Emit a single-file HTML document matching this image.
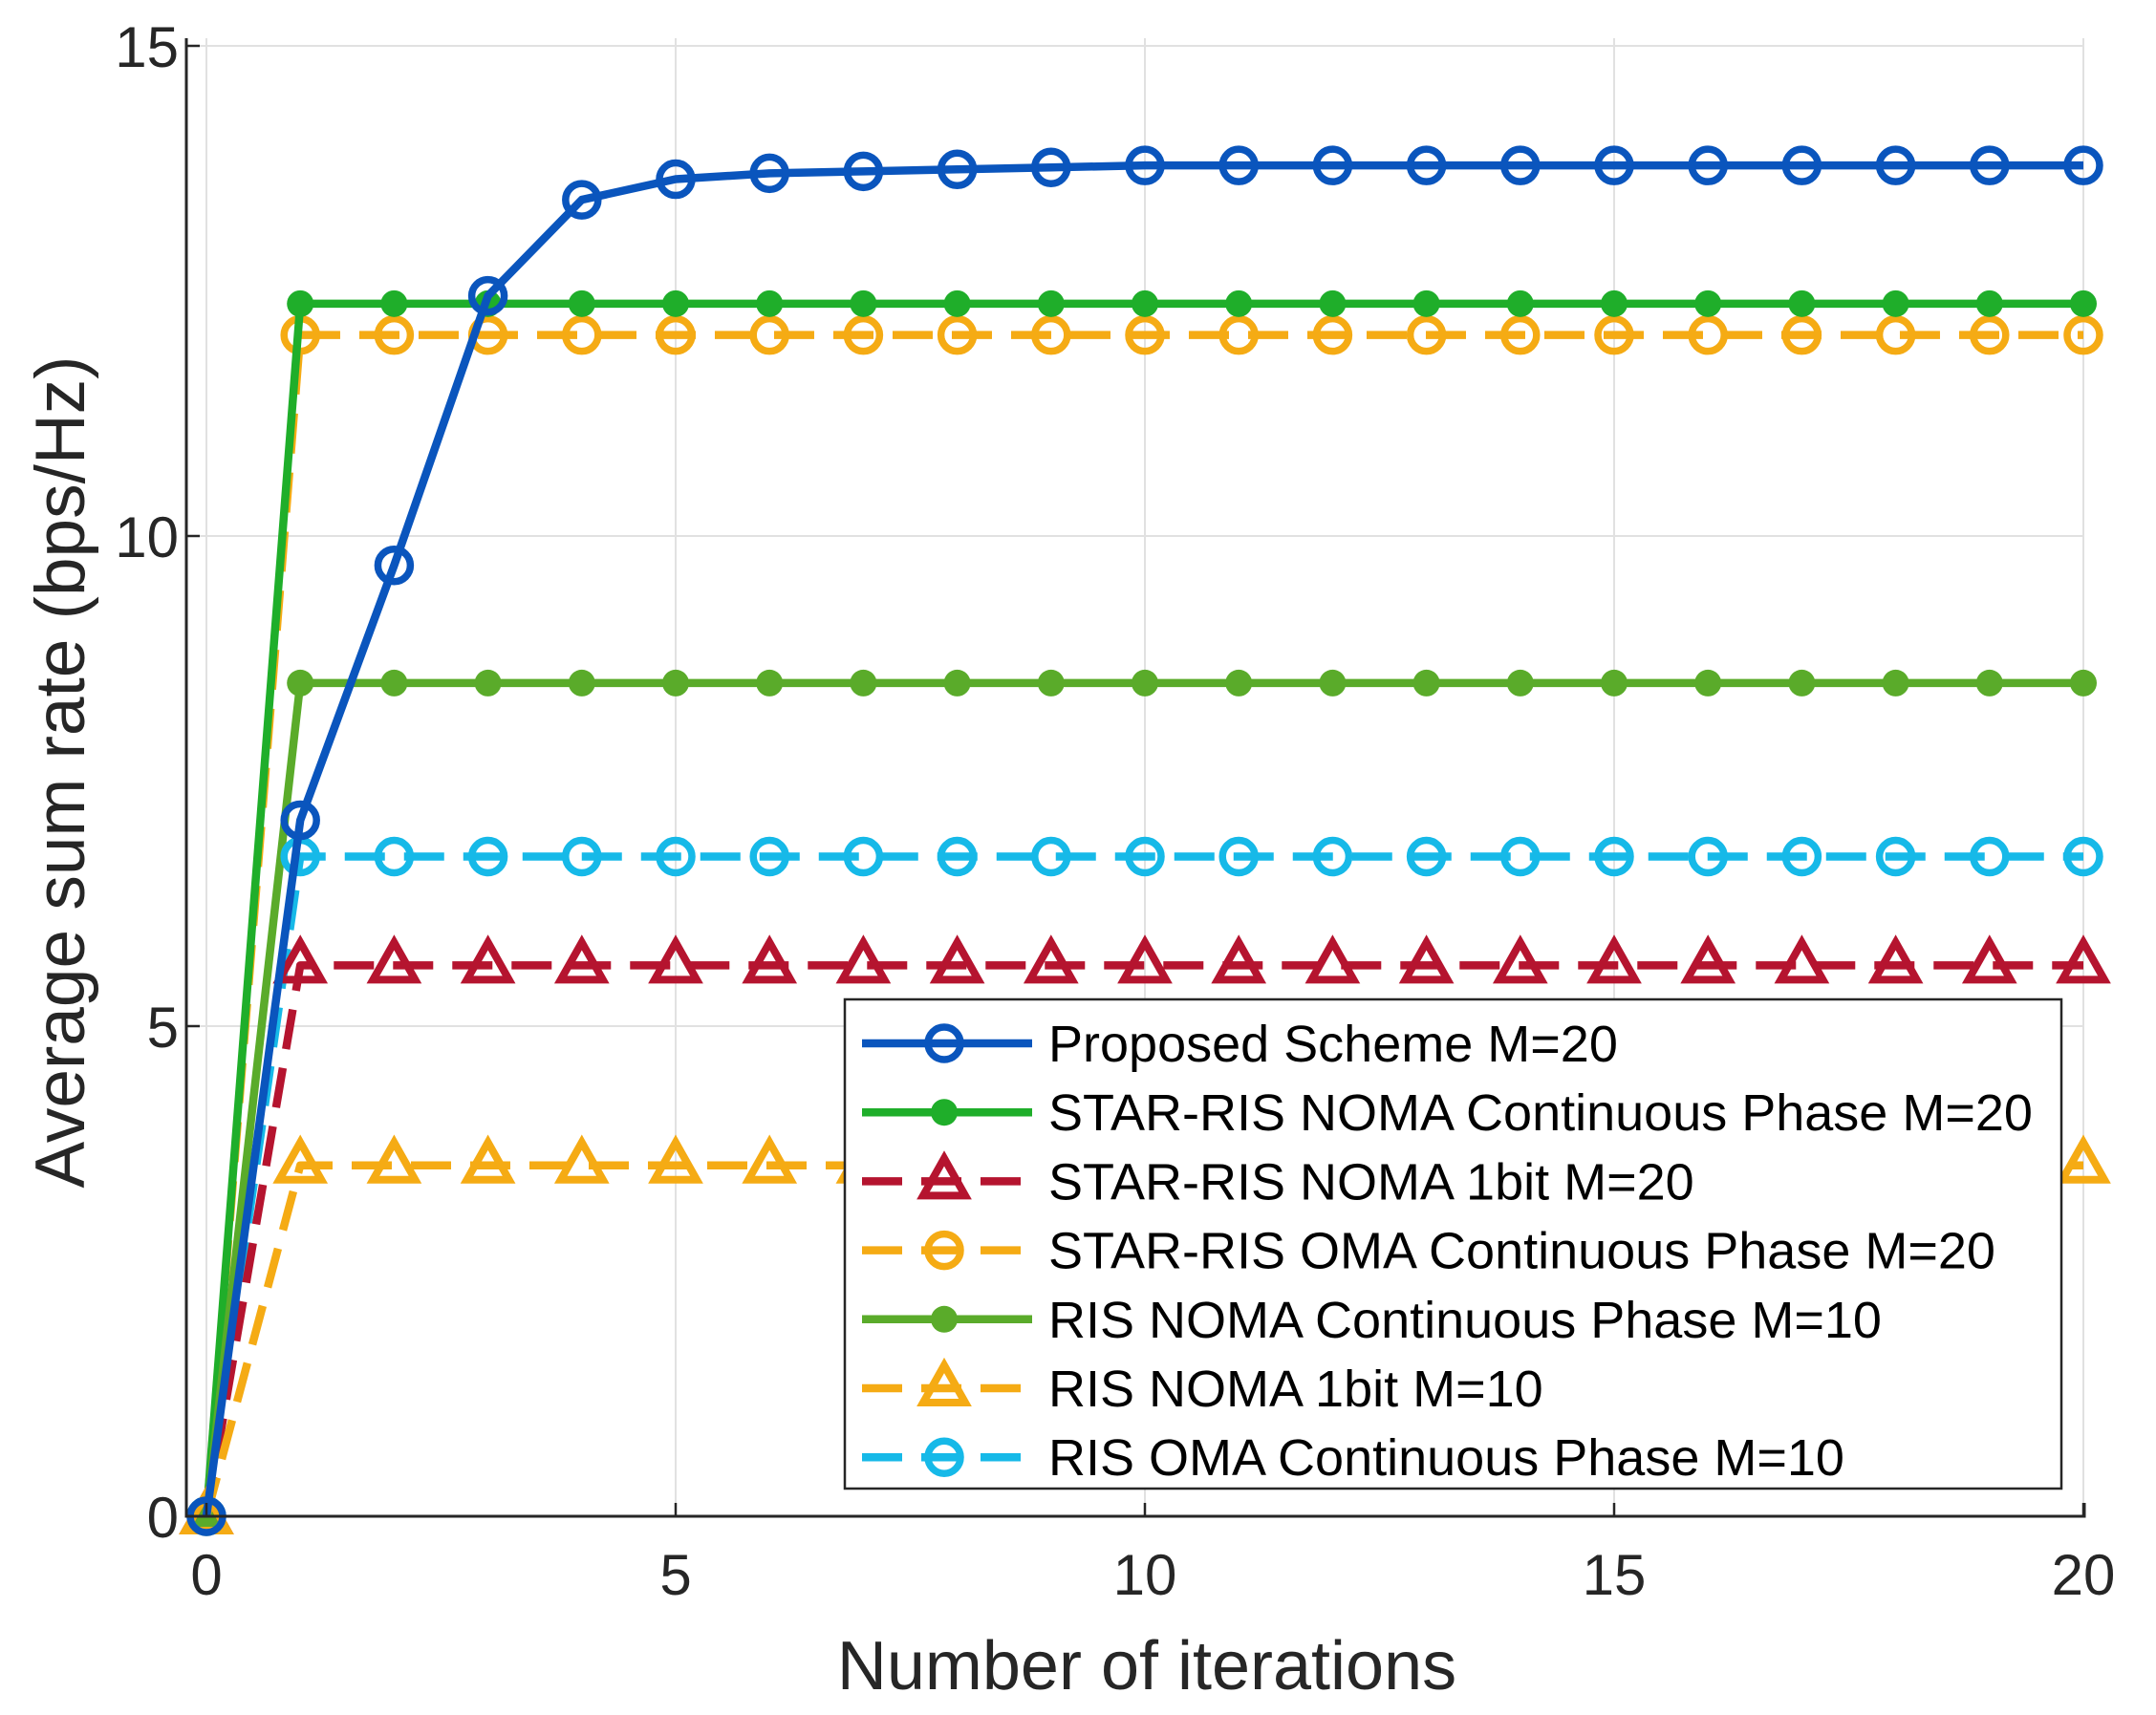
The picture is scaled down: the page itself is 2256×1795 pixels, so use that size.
<!DOCTYPE html>
<html><head><meta charset="utf-8"><style>
html,body{margin:0;padding:0;background:#fff;}
svg{display:block;font-family:"Liberation Sans",Arial,sans-serif;}
</style></head><body>
<svg id="chart" width="2256" height="1795" viewBox="0 0 2256 1795" xmlns="http://www.w3.org/2000/svg">
<rect width="2256" height="1795" fill="#fff"/>
<g id="grid"></g>
<g id="series"></g>
<g id="axes"></g>
<g id="legend"></g>
<text x="1200" y="1768" font-size="72" text-anchor="middle" fill="#262626">Number of iterations</text>
<text transform="translate(88,808) rotate(-90)" font-size="73" text-anchor="middle" fill="#262626">Average sum rate (bps/Hz)</text>
</svg>
<script>
const iterations = [0,1,2,3,4,5,6,7,8,9,10,11,12,13,14,15,16,17,18,19,20];
const proposedM20 = [0,7.1,9.7,12.45,13.43,13.64,13.7,13.72,13.74,13.76,13.78,13.78,13.78,13.78,13.78,13.78,13.78,13.78,13.78,13.78,13.78];
const starNomaContM20 = [0,12.37,12.37,12.37,12.37,12.37,12.37,12.37,12.37,12.37,12.37,12.37,12.37,12.37,12.37,12.37,12.37,12.37,12.37,12.37,12.37];
const starNoma1bitM20 = [0,5.62,5.62,5.62,5.62,5.62,5.62,5.62,5.62,5.62,5.62,5.62,5.62,5.62,5.62,5.62,5.62,5.62,5.62,5.62,5.62];
const starOmaContM20 = [0,12.05,12.05,12.05,12.05,12.05,12.05,12.05,12.05,12.05,12.05,12.05,12.05,12.05,12.05,12.05,12.05,12.05,12.05,12.05,12.05];
const risNomaContM10 = [0,8.5,8.5,8.5,8.5,8.5,8.5,8.5,8.5,8.5,8.5,8.5,8.5,8.5,8.5,8.5,8.5,8.5,8.5,8.5,8.5];
const risNoma1bitM10 = [0,3.58,3.58,3.58,3.58,3.58,3.58,3.58,3.58,3.58,3.58,3.58,3.58,3.58,3.58,3.58,3.58,3.58,3.58,3.58,3.58];
const risOmaContM10 = [0,6.73,6.73,6.73,6.73,6.73,6.73,6.73,6.73,6.73,6.73,6.73,6.73,6.73,6.73,6.73,6.73,6.73,6.73,6.73,6.73];
const xTicks = [0,5,10,15,20];
const yTicks = [0,5,10,15];
const legendLabels = ["Proposed Scheme M=20","STAR-RIS NOMA Continuous Phase M=20","STAR-RIS NOMA 1bit M=20","STAR-RIS OMA Continuous Phase M=20","RIS NOMA Continuous Phase M=10","RIS NOMA 1bit M=10","RIS OMA Continuous Phase M=10"];

const NS="http://www.w3.org/2000/svg";
const X0=216, XU=98.2, Y0=1587, YU=102.6;
const PL=195, PR=2181, PT=40, PB=1587;
function sx(v){return X0+v*XU;}
function sy(v){return Y0-v*YU;}
function mk(tag,attrs,parent){const e=document.createElementNS(NS,tag);for(const k in attrs)e.setAttribute(k,attrs[k]);parent.appendChild(e);return e;}

const grid=document.getElementById('grid'), axes=document.getElementById('axes'), ser=document.getElementById('series'), leg=document.getElementById('legend');
xTicks.forEach(t=>{
  const l=mk('line',{x1:sx(t),x2:sx(t),y1:PT,y2:PB,stroke:'#e1e1e1','stroke-width':2},grid);
  
  
  const k=mk('line',{x1:sx(t),x2:sx(t),y1:PB,y2:PB-14,stroke:'#262626','stroke-width':2.5},axes);
  
  
  const tx=mk('text',{x:sx(t),y:PB+82,'font-size':60,'text-anchor':'middle',fill:'#262626'},axes);
  tx.textContent=t;
  
  
});
yTicks.forEach(t=>{
  const l=mk('line',{x1:PL,x2:PR,y1:sy(t),y2:sy(t),stroke:'#e1e1e1','stroke-width':2},grid);
  
  
  const k=mk('line',{x1:PL,x2:PL+14,y1:sy(t),y2:sy(t),stroke:'#262626','stroke-width':2.5},axes);
  
  
  const tx=mk('text',{x:PL-8,y:sy(t)+22,'font-size':60,'text-anchor':'end',fill:'#262626'},axes);
  tx.textContent=t;
  
  
});
const ax=mk('path',{d:`M${PL},${PT} V${PB} H${PR} V${PB-14}`,fill:'none',stroke:'#262626','stroke-width':3},axes);



const series=[
 {name:'star-oma-cont-m20',data:starOmaContM20,color:'#f5ab14',dash:'42,20',marker:'circle'},
 {name:'star-noma-cont-m20',data:starNomaContM20,color:'#1fae2a',dash:'',marker:'dot'},
 {name:'ris-noma-cont-m10',data:risNomaContM10,color:'#5aab2a',dash:'',marker:'dot'},
 {name:'ris-oma-cont-m10',data:risOmaContM10,color:'#16b9e8',dash:'42,20',marker:'circle'},
 {name:'star-noma-1bit-m20',data:starNoma1bitM20,color:'#b5142f',dash:'42,20',marker:'tri'},
 {name:'ris-noma-1bit-m10',data:risNoma1bitM10,color:'#f5ab14',dash:'42,20',marker:'tri'},
 {name:'proposed-m20',data:proposedM20,color:'#0a55bd',dash:'',marker:'circle'}
];
function marker(g,type,x,y,color){
  let e;
  if(type==='circle') e=mk('circle',{cx:x,cy:y,r:17,fill:'none',stroke:color,'stroke-width':7.5},g);
  else if(type==='dot') e=mk('circle',{cx:x,cy:y,r:14,fill:color},g);
  else e=mk('path',{d:`M${x},${y-24} L${x+22},${y+15} L${x-22},${y+15} Z`,fill:'none',stroke:color,'stroke-width':8,'stroke-linejoin':'miter'},g);
  
  
}
series.forEach(s=>{
  const g=mk('g',{},ser);
  
  
  const pts=s.data.map((v,i)=>sx(iterations[i])+','+sy(v)).join(' ');
  const pl=mk('polyline',{points:pts,fill:'none',stroke:s.color,'stroke-width':8.5,'stroke-dasharray':s.dash,'stroke-linejoin':'round'},g);
  
  
  s.data.forEach((v,i)=>marker(g,s.marker,sx(iterations[i]),sy(v),s.color));
});

const lb=mk('rect',{x:884,y:1046,width:1273,height:512,fill:'#fff',stroke:'#262626','stroke-width':2.5},leg);


const legStyle=[
 {color:'#0a55bd',dash:'',marker:'circle'},
 {color:'#1fae2a',dash:'',marker:'dot'},
 {color:'#b5142f',dash:'42,20',marker:'tri'},
 {color:'#f5ab14',dash:'42,20',marker:'circle'},
 {color:'#5aab2a',dash:'',marker:'dot'},
 {color:'#f5ab14',dash:'42,20',marker:'tri'},
 {color:'#16b9e8',dash:'42,20',marker:'circle'}
];
legendLabels.forEach((lab,i)=>{
  const y=1092+i*72.2;
  const g=mk('g',{},leg);
  
  
  const st=legStyle[i];
  const l=mk('line',{x1:902,x2:1080,y1:y,y2:y,stroke:st.color,'stroke-width':8.5,'stroke-dasharray':st.dash},g);
  
  
  marker(g,st.marker,988,y,st.color);
  const t=mk('text',{x:1097,y:y+19,'font-size':54,fill:'#000'},g);
  t.textContent=lab;
  
  
});
</script>
</body></html>
